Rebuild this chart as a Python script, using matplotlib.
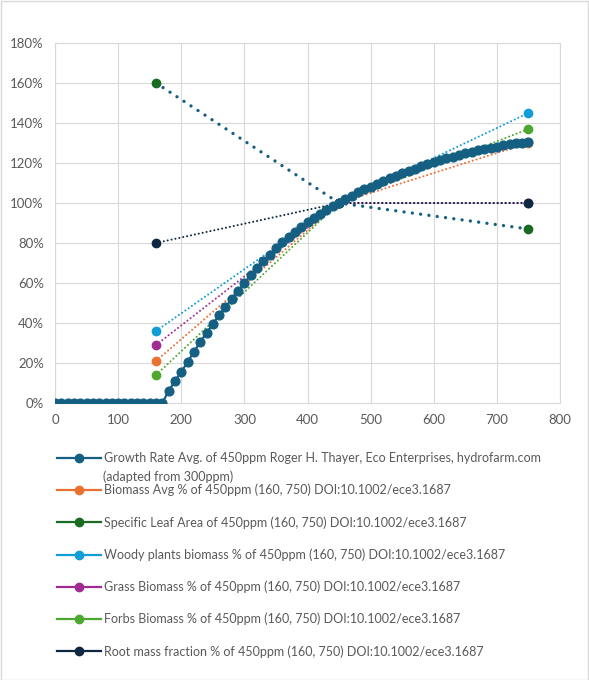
import matplotlib
matplotlib.use('Agg')
import matplotlib.pyplot as plt
from matplotlib.lines import Line2D
from matplotlib.patches import Rectangle
from matplotlib.ticker import FuncFormatter
import numpy as np

plt.rcParams['font.family'] = ['Lato', 'DejaVu Sans']

# ── Office colours ──────────────────────────────────────────────
TEAL   = "#156082"
ORANGE = "#E97132"
DGREEN = "#196B24"
CYAN   = "#0F9ED5"
PURPLE = "#A02B93"
LGREEN = "#4EA72E"
NAVY   = "#0E2841"
GRID   = "#d9d9d9"
TXT    = "#595959"

# ── Data ────────────────────────────────────────────────────────
ppm_growth = np.arange(0, 760, 10)
growth = [0] * 18 + [
    6, 11, 15.5, 20.5, 25.5, 30.5, 35, 39.5, 44, 48,
    52, 56, 60, 64, 67.5, 71, 74, 77.5, 80.5, 83,
    85.5, 88, 90.5, 92.5, 94.5, 96.5, 98.5, 100, 102, 103.7,
    105.3, 106.8, 108.2, 109.6, 111, 112.3, 113.6, 114.8, 116, 117.2,
    118.3, 119.4, 120.4, 121.4, 122.3, 123.2, 124, 124.8, 125.6, 126.3,
    127, 127.6, 128.2, 128.8, 129.3, 129.8, 130.2, 130.6]

ppm_study = [160, 450, 750]
biomass_avg = [21, 100, 130]
sla         = [160, 100, 87]
woody       = [36, 100, 145]
grass       = [29, 100, 100]
forbs       = [14, 100, 137]
root_mass   = [80, 100, 100]

labels = [
    "Growth Rate Avg. of 450ppm Roger H. Thayer, Eco Enterprises, hydrofarm.com",
    "Biomass Avg % of 450ppm (160, 750) DOI:10.1002/ece3.1687",
    "Specific Leaf Area of 450ppm (160, 750) DOI:10.1002/ece3.1687",
    "Woody plants biomass % of 450ppm (160, 750) DOI:10.1002/ece3.1687",
    "Grass Biomass % of 450ppm (160, 750) DOI:10.1002/ece3.1687",
    "Forbs Biomass % of 450ppm (160, 750) DOI:10.1002/ece3.1687",
    "Root mass fraction % of 450ppm (160, 750) DOI:10.1002/ece3.1687",
]
label2 = "(adapted from 300ppm)"

W, H = 589, 680
fig = plt.figure(figsize=(W / 100, H / 100), dpi=100)
ax = fig.add_axes([55 / W, 1 - 403 / H, 505 / W, 360 / H])

def pct(v):
    return np.array(v) / 100.0

dot = dict(linestyle=(0, (0.01, 1.9)), lw=1.5, dash_capstyle='round',
           marker='o', markersize=6, zorder=2)

ax.plot(ppm_study, pct(biomass_avg), color=ORANGE, mfc=ORANGE, mec=ORANGE, **dot)
ax.plot(ppm_study, pct(sla), color=TEAL, mfc=DGREEN, mec=DGREEN,
        linestyle=(0, (0.01, 2.5)), lw=2.4, dash_capstyle='round',
        marker='o', markersize=6, zorder=2)
ax.plot(ppm_study, pct(woody), color=CYAN, mfc=CYAN, mec=CYAN, **dot)
ax.plot(ppm_study, pct(grass), color=PURPLE, mfc=PURPLE, mec=PURPLE, **dot)
ax.plot(ppm_study, pct(forbs), color=LGREEN, mfc=LGREEN, mec=LGREEN, **dot)
ax.plot(ppm_study, pct(root_mass), color=NAVY, mfc=NAVY, mec=NAVY, **dot)

ax.plot(ppm_growth, pct(growth), color=TEAL, lw=1.6, marker='o',
        markersize=6.3, mfc=TEAL, mec=TEAL, zorder=3)

ax.set_xlim(0, 800)
ax.set_ylim(0, 1.8)
ax.set_xticks(np.arange(0, 801, 100))
ax.set_yticks(np.arange(0, 1.81, 0.2))
ax.yaxis.set_major_formatter(FuncFormatter(lambda v, p: f"{v * 100:.0f}%"))
ax.tick_params(length=0, colors=TXT, labelsize=9.5)
ax.tick_params(axis='y', pad=8)
ax.tick_params(axis='x', pad=8)
ax.grid(True, color=GRID, lw=0.8, zorder=0)
ax.set_axisbelow(True)
for sp in ax.spines.values():
    sp.set_color(GRID)
    sp.set_linewidth(0.8)

# legend (solid handles like Excel)
colors = [TEAL, ORANGE, DGREEN, CYAN, PURPLE, LGREEN, NAVY]
handles = [Line2D([], [], color=c, lw=1.6, marker='o', markersize=6,
                  mfc=c, mec=c) for c in colors]
fs = 9
leg = fig.legend(handles, labels, loc='upper left',
                 bbox_to_anchor=(57 / W, 1 - 452 / H), frameon=False,
                 fontsize=fs, labelcolor=TXT, handlelength=3.5,
                 handletextpad=0.3, labelspacing=1.58, borderpad=0,
                 borderaxespad=0)
fig.text(103 / W, 1 - 477 / H, label2, color=TXT, fontsize=fs, va='center')

# chart border
fig.patches.append(Rectangle((0.5 / W, 0.5 / H), 1 - 1.5 / W, 1 - 1.5 / H,
                             transform=fig.transFigure, fill=False,
                             edgecolor=GRID, lw=1))

fig.savefig('out.png', dpi=100, facecolor='white')
